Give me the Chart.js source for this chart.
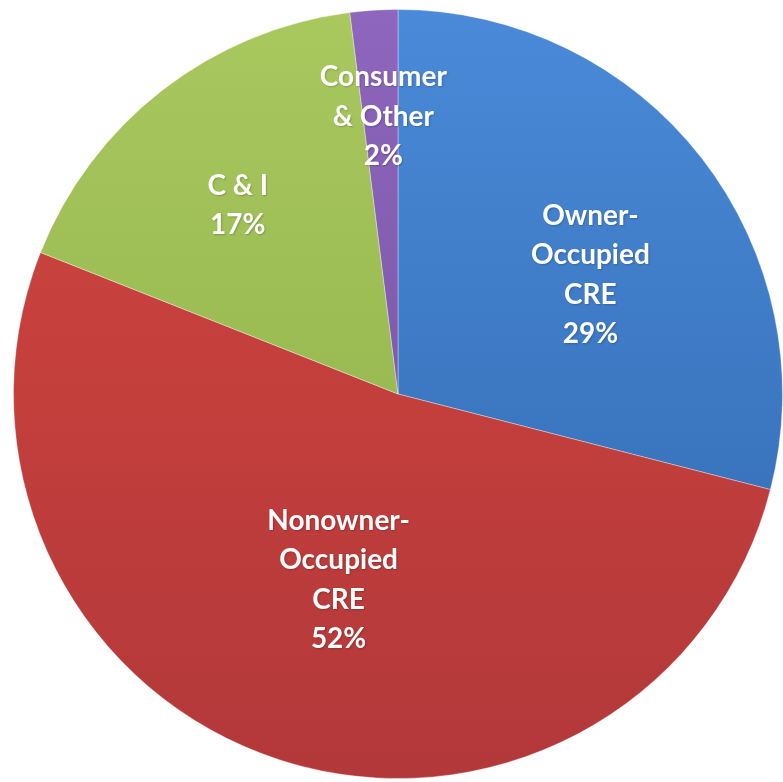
<!DOCTYPE html>
<html>
<head>
<meta charset="utf-8">
<script src="https://cdn.jsdelivr.net/npm/chart.js@4"></script>
<style>
  body { margin: 0; background: #fff; }
  #loans { display: block; }
</style>
</head>
<body>
<canvas id="loans" width="783" height="782"></canvas>
<script>
var labels = [['Owner-', 'Occupied', 'CRE'], ['Nonowner-', 'Occupied', 'CRE'], ['C & I'], ['Consumer', '& Other']];
var values = [29, 52, 17, 2];

// top / bottom shades for each slice
var topColors = ['#4a8ad8', '#d2463f', '#a9c95f', '#8e66bd'];
var bottomColors = ['#2f66ad', '#b3383a', '#8aaa45', '#6d4d9a'];
// how far out the label sits, as part of the radius, plus a small nudge
var labelRadius = [0.62, 0.5, 0.68, 0.73];
var labelNudge = [[4, 27], [0, 3], [0, 18], [3, 3]];

var sliceFill = function (ctx) {
    var chart = ctx.chart;
    var area = chart.chartArea;
    if (!area) {
        return topColors[ctx.dataIndex];
    }
    var g = chart.ctx.createLinearGradient(0, area.top, 0, area.bottom);
    g.addColorStop(0, topColors[ctx.dataIndex]);
    g.addColorStop(1, bottomColors[ctx.dataIndex]);
    return g;
};

var sliceLabels = {
    id: 'sliceLabels',
    afterDatasetsDraw: function (chart) {
        var ctx = chart.ctx;
        var arcs = chart.getDatasetMeta(0).data;
        ctx.save();
        ctx.fillStyle = '#fff';
        ctx.font = 'bold 28px Lato, "Open Sans", sans-serif';
        ctx.textAlign = 'center';
        ctx.textBaseline = 'middle';
        ctx.shadowColor = 'rgba(0,0,0,0.2)';
        ctx.shadowBlur = 2;
        ctx.shadowOffsetX = 1;
        ctx.shadowOffsetY = 1;
        arcs.forEach(function (arc, i) {
            var p = arc.getProps(['x', 'y', 'startAngle', 'endAngle', 'outerRadius'], true);
            var mid = (p.startAngle + p.endAngle) / 2;
            var d = p.outerRadius * labelRadius[i];
            var cx = p.x + Math.cos(mid) * d + labelNudge[i][0];
            var cy = p.y + Math.sin(mid) * d + labelNudge[i][1];
            var lines = labels[i].concat([values[i] + '%']);
            var lh = 39.5;
            var y0 = cy - (lines.length - 1) * lh / 2;
            lines.forEach(function (t, k) {
                ctx.fillText(t, cx, y0 + k * lh);
            });
        });
        ctx.restore();
    }
};

var loansChart = new Chart('loans', {
    type: 'pie',
    data: {
        labels: labels.map(function (l) { return l.join(' '); }),
        datasets: [{
            data: values,
            backgroundColor: sliceFill,
            borderColor: 'rgba(255,255,255,0.35)',
            borderWidth: 1
        }]
    },
    options: {
        responsive: false,
        animation: false,
        layout: {
            padding: { left: 13, right: 0, top: 9, bottom: 3 }
        },
        plugins: {
            legend: { display: false },
            tooltip: { enabled: false }
        }
    },
    plugins: [sliceLabels]
});
</script>
</body>
</html>
